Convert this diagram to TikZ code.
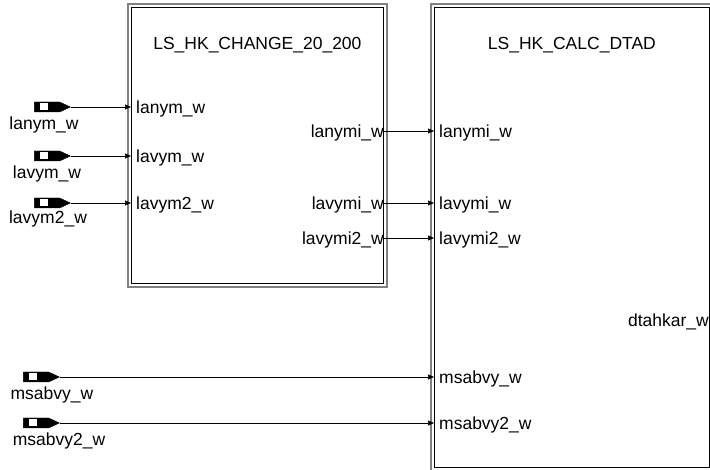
\documentclass[tikz,border=0pt]{standalone}
\usepackage{fontspec}
\setmainfont{Liberation Sans}
\usetikzlibrary{arrows.meta, positioning, shapes.symbols}

\begin{document}
\begin{tikzpicture}[
    x=1pt, y=-1pt,
    font=\fontsize{17.5}{20}\selectfont,
    >={Triangle[length=6pt, width=5pt]},
    block/.style={
        rectangle, draw=black, line width=0.8pt, inner sep=0pt,
        anchor=north west
    },
    frame/.style={draw=black!50, line width=2pt},
    inport/.style={
        signal, signal to=east, signal pointer angle=50,
        fill=black, draw=black, minimum width=36pt, minimum height=10pt,
        inner sep=0pt
    },
    inmark/.style={
        rectangle, fill=white, minimum width=8pt, minimum height=7pt,
        inner sep=0pt,
        path picture={
            \fill ([xshift=2.6pt]path picture bounding box.center)
                -- ++(-2.8,-2.2) -- ++(0,4.4) -- cycle;
            \fill ([xshift=-2.6pt, yshift=-0.7pt]path picture bounding box.center)
                rectangle ++(2.6,1.4);
        }
    },
    plabel/.style={inner sep=0pt},
    sig/.style={->, line width=0.6pt},
]

\useasboundingbox (0,0) rectangle (710,470);

% --- Blocks -----------------------------------------------------------------
\node[block, minimum width=252pt, minimum height=276pt] (b1) at (131,7) {};
\draw[frame] ([shift={(-3,-3)}]b1.north west) rectangle ([shift={(3,3)}]b1.south east);
\node (t1) at ([yshift=-38.5pt]b1.north) {LS\_HK\_CHANGE\_20\_200};

\node[block, minimum width=275pt, minimum height=460pt] (b2) at (434,7) {};
\draw[frame] ([shift={(-3,-3)}]b2.north west) rectangle ([shift={(3,3)}]b2.south east);
\node (t2) at ([yshift=-38.5pt]b2.north) {LS\_HK\_CALC\_DTAD};

% --- Ports of LS_HK_CHANGE_20_200 -------------------------------------------
\node[plabel, anchor=west] (p1a) at (136,108.5) {lanym\_w};
\node[plabel, anchor=west] (p1b) at (136,157.5) {lavym\_w};
\node[plabel, anchor=west] (p1c) at (136,204.5) {lavym2\_w};
\node[plabel, anchor=east] (q1a) at (384,132.5) {lanymi\_w};
\node[plabel, anchor=east] (q1b) at (384,204.5) {lavymi\_w};
\node[plabel, anchor=east] (q1c) at (384,239.5) {lavymi2\_w};
\coordinate (o1a) at (b1.east |- 0,131);
\coordinate (o1b) at (b1.east |- 0,203);
\coordinate (o1c) at (b1.east |- 0,238);

% --- Ports of LS_HK_CALC_DTAD -----------------------------------------------
\node[plabel, anchor=west] (p2a) at (439,132.5) {lanymi\_w};
\node[plabel, anchor=west] (p2b) at (439,204.5) {lavymi\_w};
\node[plabel, anchor=west] (p2c) at (439,239.5) {lavymi2\_w};
\node[plabel, anchor=west] (p2d) at (439,378.5) {msabvy\_w};
\node[plabel, anchor=west] (p2e) at (439,424.5) {msabvy2\_w};
\node[plabel, anchor=east] (q2a) at (709,321.5) {dtahkar\_w};

% --- Inports ----------------------------------------------------------------
\node[inport] (in1) at (47,107) {};
\node[inmark] at ([xshift=-3pt]in1.center) {};
\node (n1) at (44,125) {lanym\_w};

\node[inport] (in2) at (47,156) {};
\node[inmark] at ([xshift=-3pt]in2.center) {};
\node (n2) at (47,174) {lavym\_w};

\node[inport] (in3) at (47,203) {};
\node[inmark] at ([xshift=-3pt]in3.center) {};
\node (n3) at (48,219) {lavym2\_w};

\node[inport] (in4) at (36,377) {};
\node[inmark] at ([xshift=-3pt]in4.center) {};
\node (n4) at (52,395) {msabvy\_w};

\node[inport] (in5) at (36,423) {};
\node[inmark] at ([xshift=-3pt]in5.center) {};
\node (n5) at (59,441) {msabvy2\_w};

% --- Signals ----------------------------------------------------------------
\draw[sig] (in1.east) -- (b1.west |- in1.east);
\draw[sig] (in2.east) -- (b1.west |- in2.east);
\draw[sig] (in3.east) -- (b1.west |- in3.east);
\draw[sig] (in4.east) -- (b2.west |- in4.east);
\draw[sig] (in5.east) -- (b2.west |- in5.east);

\draw[sig] (o1a) -- (b2.west |- o1a);
\draw[sig] (o1b) -- (b2.west |- o1b);
\draw[sig] (o1c) -- (b2.west |- o1c);

\end{tikzpicture}
\end{document}
